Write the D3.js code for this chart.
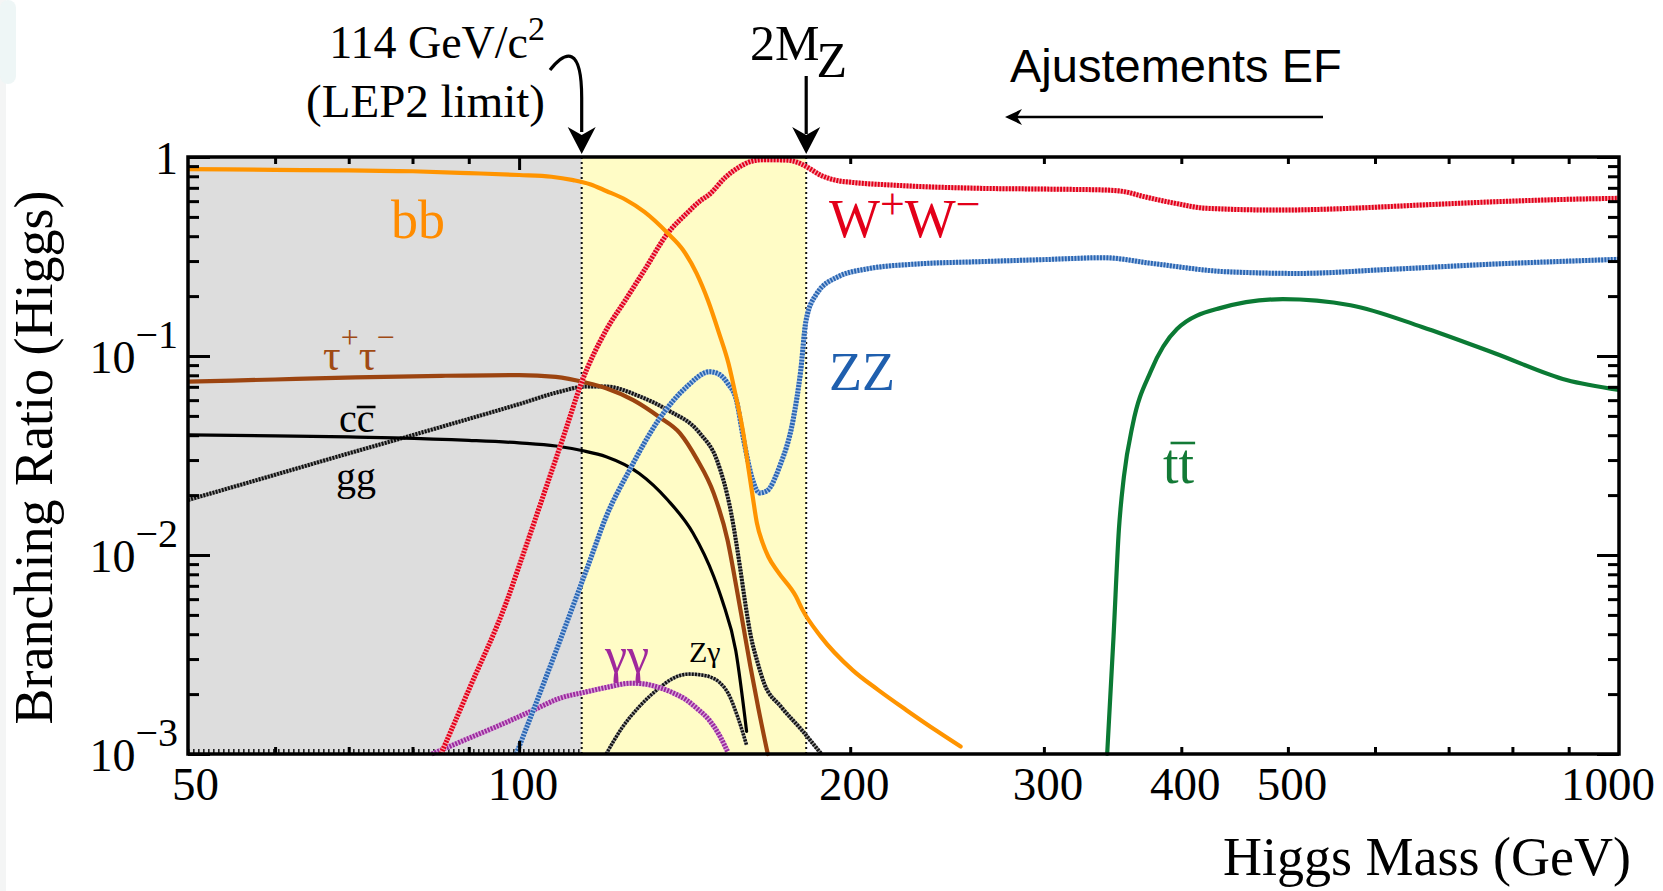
<!DOCTYPE html>
<html>
<head>
<meta charset="utf-8">
<script src="https://cdn.jsdelivr.net/npm/d3@7"></script>
<style>
  html, body { margin: 0; padding: 0; background: #ffffff; }
  svg { display: block; }
</style>
</head>
<body>
<svg id="chart" width="1663" height="891"></svg>
<script>
// Standard Model Higgs boson branching ratios as a function of its mass.

// --- decay channels: mass (GeV) and branching ratio ---
const bbMass = [50, 60, 70, 80, 90, 100, 107, 112, 116, 120, 125, 130, 136.5, 141, 145, 148.5, 152, 155, 157.5, 160, 161.5, 163, 164.5, 166.5, 168.5, 172, 178.5, 181, 188, 201, 212, 225, 240, 252];
const bbBR   = [0.87, 0.862, 0.856, 0.848, 0.83, 0.812, 0.796, 0.765, 0.73, 0.675, 0.61, 0.53, 0.414, 0.34, 0.26, 0.19, 0.13, 0.092, 0.062, 0.04, 0.028, 0.02, 0.0145, 0.0115, 0.0098, 0.0082, 0.0062, 0.0053, 0.0039, 0.00264, 0.0021, 0.00166, 0.0013, 0.00109];

const wwMass = [84.9, 90, 97.6, 100, 106.7, 110, 114, 120, 125, 130, 136.5, 142, 146, 149, 154, 158.5, 163, 167, 175, 180, 184, 188, 195, 201, 221, 262, 300, 340, 355, 370, 395, 422, 489, 569, 661, 772, 900, 1000];
const wwBR   = [0.001, 0.0021, 0.006, 0.0088, 0.025, 0.041, 0.074, 0.135, 0.192, 0.27, 0.414, 0.52, 0.6, 0.65, 0.79, 0.89, 0.955, 0.97, 0.965, 0.93, 0.87, 0.81, 0.76, 0.745, 0.72, 0.696, 0.69, 0.683, 0.67, 0.632, 0.585, 0.552, 0.541, 0.552, 0.574, 0.596, 0.613, 0.62];

const zzMass = [99.4, 104, 108.7, 112.8, 116, 120, 126, 134, 142, 149, 152, 154.7, 157.6, 160, 163, 165.4, 168, 172.5, 177.5, 180.3, 182.3, 186.4, 194.9, 208, 230, 262, 300, 340, 376, 440, 512, 615, 772, 1000];
const zzBR   = [0.001, 0.0019, 0.0036, 0.0062, 0.0094, 0.0156, 0.0267, 0.048, 0.07, 0.0834, 0.081, 0.073, 0.06, 0.038, 0.024, 0.0205, 0.021, 0.0278, 0.048, 0.084, 0.15, 0.205, 0.25, 0.275, 0.29, 0.298, 0.305, 0.312, 0.292, 0.265, 0.26, 0.272, 0.29, 0.306];

const tauMass = [50, 60, 71, 85, 100, 108, 115, 120, 127, 134, 140, 145, 150.3, 154.7, 157.6, 160, 162.3, 165, 168.3];
const tauBR   = [0.0743, 0.0762, 0.078, 0.0795, 0.0802, 0.0785, 0.0735, 0.0689, 0.06, 0.0495, 0.041, 0.0305, 0.0204, 0.0119, 0.0069, 0.0043, 0.00275, 0.0017, 0.001];

const ccMass = [50, 60, 70, 77, 90, 100, 108, 114, 120, 128.6, 136.5, 143.9, 150.3, 153, 157.4, 161];
const ccBR   = [0.0401, 0.0397, 0.0392, 0.0388, 0.0377, 0.0366, 0.0353, 0.0335, 0.0312, 0.0257, 0.0189, 0.0129, 0.0078, 0.0059, 0.0033, 0.0013];

const ggMass = [50, 60, 71.2, 79.6, 90, 100, 108.7, 115, 120, 128.6, 136.5, 146, 151.3, 155.9, 158.8, 160.5, 162.3, 165, 167, 173, 180.7, 188.3];
const ggBR   = [0.0189, 0.0253, 0.0333, 0.0397, 0.0483, 0.0573, 0.066, 0.0702, 0.0702, 0.0628, 0.0535, 0.0409, 0.030, 0.0162, 0.0087, 0.0058, 0.004, 0.0028, 0.00227, 0.00173, 0.00132, 0.001];

const zgMass = [120, 124, 128.6, 134, 138, 142.8, 146, 148.9, 152, 154.9, 158, 161];
const zgBR   = [0.001, 0.00135, 0.00173, 0.00214, 0.0024, 0.00252, 0.0025, 0.00245, 0.0023, 0.00202, 0.00154, 0.00111];

const gagaMass = [83.3, 90, 95, 103, 108.7, 115, 120, 126.5, 130, 134, 138, 141.9, 145, 148.9, 152, 154.7];
const gagaBR   = [0.001, 0.0012, 0.00136, 0.00166, 0.0019, 0.00205, 0.00216, 0.00227, 0.00225, 0.00216, 0.00203, 0.00187, 0.0017, 0.00148, 0.00125, 0.00103];

const ttMass = [342.5, 347.1, 351, 354.7, 361.4, 375.3, 396.4, 433.8, 494.8, 570, 662, 772, 896, 1000];
const ttBR   = [0.001, 0.0039, 0.0134, 0.0247, 0.0455, 0.084, 0.1367, 0.174, 0.193, 0.18, 0.14, 0.103, 0.0757, 0.0675];

// --- axis ticks and reference masses ---
const xTickLabels = [50, 100, 200, 300, 400, 500, 1000];
const yTickExponents = [0, -1, -2, -3];
const lepLimit = 114;     // GeV, LEP2 exclusion
const twoMZ = 182.4;      // GeV, ZZ threshold

// --- layout ---
const W = 1663, H = 891;
const plot = { left: 188, right: 1619, top: 157, bottom: 754 };
const SERIF = "'Liberation Serif', 'Times New Roman', Times, serif";
const SANS = "'Liberation Sans', Arial, Helvetica, sans-serif";

const svg = d3.select('#chart');

const x = d3.scaleLog().domain([50, 1000]).range([plot.left, plot.right]);
const y = d3.scaleLog().domain([1e-3, 1]).range([plot.bottom, plot.top]);

// faint edge tint along the left border of the page
svg.append('rect').attr('x', 0).attr('y', 0).attr('width', 6).attr('height', H).attr('fill', '#f4f5f5');
svg.append('rect').attr('x', 0).attr('y', 0).attr('width', 16).attr('height', 84).attr('rx', 8).attr('fill', '#eef6f6');

// clip region for the curves
svg.append('defs').append('clipPath').attr('id', 'plotClip')
  .append('rect')
  .attr('x', plot.left).attr('y', plot.top - 2)
  .attr('width', plot.right - plot.left).attr('height', plot.bottom - plot.top + 6);

// shaded mass regions
svg.append('rect')
  .attr('x', x(50)).attr('y', plot.top)
  .attr('width', x(lepLimit) - x(50)).attr('height', plot.bottom - plot.top)
  .attr('fill', '#dddddd');
svg.append('rect')
  .attr('x', x(lepLimit)).attr('y', plot.top)
  .attr('width', x(twoMZ) - x(lepLimit)).attr('height', plot.bottom - plot.top)
  .attr('fill', '#fffcc6');

// dotted bottom edge of the excluded region
svg.append('line')
  .attr('x1', x(50)).attr('x2', x(lepLimit))
  .attr('y1', plot.bottom - 3).attr('y2', plot.bottom - 3)
  .attr('stroke', '#222').attr('stroke-width', 4).attr('stroke-dasharray', '1.6,3.4');

// vertical markers at the LEP limit and at 2 M_Z
[lepLimit, twoMZ].forEach(m => {
  svg.append('line')
    .attr('x1', x(m)).attr('x2', x(m))
    .attr('y1', plot.top).attr('y2', plot.bottom)
    .attr('stroke', '#111').attr('stroke-width', 2).attr('stroke-dasharray', '2,3');
});

// curves
const series = [
  { mass: ggMass,   br: ggBR,   color: '#111111', gap: '#9a9a9a', width: 4,   dotted: true },
  { mass: zgMass,   br: zgBR,   color: '#111111', gap: '#9a9a9a', width: 3.5, dotted: true },
  { mass: gagaMass, br: gagaBR, color: '#9b2a9e', gap: '#d9a6da', width: 5,   dotted: true },
  { mass: ccMass,   br: ccBR,   color: '#000000', width: 3.2 },
  { mass: tauMass,  br: tauBR,  color: '#9c4410', width: 4.2 },
  { mass: zzMass,   br: zzBR,   color: '#2a66b3', gap: '#a9c3e6', width: 5,   dotted: true },
  { mass: wwMass,   br: wwBR,   color: '#e3001a', gap: '#f4a6ae', width: 5,   dotted: true },
  { mass: bbMass,   br: bbBR,   color: '#ff9400', width: 4.2 },
  { mass: ttMass,   br: ttBR,   color: '#0b7a34', width: 4.2 }
];

const line = d3.line()
  .x(d => x(d[0]))
  .y(d => y(d[1]))
  .curve(d3.curveMonotoneX);

const curves = svg.append('g').attr('clip-path', 'url(#plotClip)').attr('fill', 'none');
series.forEach(s => {
  const pts = s.mass.map((m, i) => [m, s.br[i]]);
  if (s.dotted) {
    curves.append('path').attr('d', line(pts))
      .attr('stroke', s.gap).attr('stroke-width', s.width)
      .attr('stroke-linejoin', 'round');
    curves.append('path').attr('d', line(pts))
      .attr('stroke', s.color).attr('stroke-width', s.width)
      .attr('stroke-dasharray', '1.9,1.3');
  } else {
    curves.append('path').attr('d', line(pts))
      .attr('stroke', s.color).attr('stroke-width', s.width)
      .attr('stroke-linejoin', 'round').attr('stroke-linecap', 'round');
  }
});

// --- axes (ticks point into the plot) ---
const yMajor = yTickExponents.map(e => Math.pow(10, e));
const yMinor = y.ticks().filter(v => !yMajor.some(t => Math.abs(t - v) < 1e-12));
const xAll = x.ticks();

function styleAxis(g) {
  g.select('.domain').remove();
  g.selectAll('line').attr('stroke', '#000').attr('stroke-width', 3);
}

svg.append('g').attr('transform', `translate(${plot.left},0)`)
  .call(d3.axisLeft(y).tickValues(yMajor).tickSize(-22).tickFormat('')).call(styleAxis);
svg.append('g').attr('transform', `translate(${plot.left},0)`)
  .call(d3.axisLeft(y).tickValues(yMinor).tickSize(-11).tickFormat('')).call(styleAxis);
svg.append('g').attr('transform', `translate(${plot.right},0)`)
  .call(d3.axisRight(y).tickValues(yMajor).tickSize(-22).tickFormat('')).call(styleAxis);
svg.append('g').attr('transform', `translate(${plot.right},0)`)
  .call(d3.axisRight(y).tickValues(yMinor).tickSize(-11).tickFormat('')).call(styleAxis);

const xInner = xAll.filter(v => v > 50 && v < 1000);
svg.append('g').attr('transform', `translate(0,${plot.top})`)
  .call(d3.axisTop(x).tickValues(xInner).tickSize(-7).tickFormat('')).call(styleAxis)
  .selectAll('.tick line').attr('y2', d => d === 100 ? 13 : 7);
const bottomAxis = svg.append('g').attr('transform', `translate(0,${plot.bottom})`)
  .call(d3.axisBottom(x).tickValues(xInner).tickSize(-7).tickFormat('')).call(styleAxis);
bottomAxis.selectAll('.tick line').attr('y2', d => d === 100 ? -13 : -7);

// x tick labels
const xLab = svg.append('g')
  .attr('font-family', SERIF).attr('font-size', 47).attr('fill', '#000');
xTickLabels.forEach(v => {
  const t = xLab.append('text')
    .attr('x', x(v)).attr('y', 800)
    .attr('text-anchor', 'middle')
    .text(d3.format('d')(v));
  const w = t.node().getComputedTextLength();
  const cx = Math.max(x(v), plot.left - 20 + w / 2);
  t.attr('x', Math.min(cx + 4, 1655 - w / 2));
});

// y tick labels: 1, 10^-1, 10^-2, 10^-3
const yLab = svg.append('g')
  .attr('font-family', SERIF).attr('fill', '#000');
yTickExponents.forEach(e => {
  const ty = y(Math.pow(10, e));
  const t = yLab.append('text')
    .attr('x', 178).attr('y', ty + 17)
    .attr('text-anchor', 'end').attr('font-size', 46);
  if (e === 0) {
    t.text('1');
  } else {
    t.append('tspan').text('10');
    t.append('tspan').attr('font-size', 40).attr('dy', -25).text('\u2212' + Math.abs(e));
  }
});

// frame
svg.append('rect')
  .attr('x', plot.left).attr('y', plot.top)
  .attr('width', plot.right - plot.left).attr('height', plot.bottom - plot.top)
  .attr('fill', 'none').attr('stroke', '#000').attr('stroke-width', 3.5);

// axis titles
svg.append('text')
  .attr('transform', `translate(52,${(plot.top + plot.bottom) / 2 + 2}) rotate(-90)`)
  .attr('text-anchor', 'middle')
  .attr('font-family', SERIF).attr('font-size', 54).attr('fill', '#000')
  .text('Branching Ratio (Higgs)');
svg.append('text')
  .attr('x', 1631).attr('y', 875)
  .attr('text-anchor', 'end')
  .attr('font-family', SERIF).attr('font-size', 54).attr('fill', '#000')
  .text('Higgs Mass (GeV)');

// --- channel labels ---
const lab = svg.append('g').attr('font-family', SERIF);

// bar over one character of a label (antiparticle notation)
function overbar(textSel, charIndex, rise, extendLeft, color) {
  const node = textSel.node();
  const s = node.getStartPositionOfChar(charIndex);
  const e = node.getEndPositionOfChar(charIndex);
  lab.append('line')
    .attr('x1', s.x - extendLeft).attr('x2', e.x + 1)
    .attr('y1', s.y - rise).attr('y2', s.y - rise)
    .attr('stroke', color).attr('stroke-width', 2.6);
}

lab.append('text').attr('x', 391).attr('y', 238).attr('font-size', 54)
  .attr('fill', '#ff8c00').text('bb');

const tau = lab.append('text').attr('x', 323).attr('y', 370).attr('font-size', 44).attr('fill', '#a04a14');
tau.append('tspan').text('\u03c4');
tau.append('tspan').attr('font-size', 32).attr('dy', -22).text('+');
tau.append('tspan').attr('font-size', 44).attr('dy', 22).text('\u03c4');
tau.append('tspan').attr('font-size', 32).attr('dy', -22).text('\u2212');

const cc = lab.append('text').attr('x', 339).attr('y', 432).attr('font-size', 40).attr('fill', '#000').text('cc');
overbar(cc, 1, 25, 0, '#000');

lab.append('text').attr('x', 336).attr('y', 490).attr('font-size', 40)
  .attr('fill', '#000').text('gg');

const ww = lab.append('text').attr('x', 829).attr('y', 237).attr('font-size', 54).attr('fill', '#e3001a');
ww.append('tspan').text('W');
ww.append('tspan').attr('font-size', 44).attr('dy', -18).text('+');
ww.append('tspan').attr('font-size', 54).attr('dy', 18).text('W');
ww.append('tspan').attr('font-size', 44).attr('dy', -18).text('\u2212');

lab.append('text').attr('x', 829).attr('y', 390).attr('font-size', 54)
  .attr('fill', '#1f5fae').text('ZZ');

const tt = lab.append('text').attr('x', 1163).attr('y', 483).attr('font-size', 56).attr('fill', '#137a36').text('tt');
overbar(tt, 1, 40, 8, '#137a36');

lab.append('text').attr('x', 605).attr('y', 672).attr('font-size', 50)
  .attr('fill', '#a0289c').text('\u03b3\u03b3');

lab.append('text').attr('x', 689).attr('y', 662).attr('font-size', 30)
  .attr('fill', '#000').text('Z\u03b3');

// --- annotations above the frame ---
const ann = svg.append('g').attr('font-family', SERIF).attr('fill', '#000');
const lepText = ann.append('text').attr('x', 545).attr('y', 58).attr('font-size', 46).attr('text-anchor', 'end');
lepText.append('tspan').text('114 GeV/c');
lepText.append('tspan').attr('font-size', 34).attr('dy', -18).text('2');
ann.append('text').attr('x', 545).attr('y', 117).attr('font-size', 47).attr('text-anchor', 'end')
  .text('(LEP2 limit)');

const mzText = ann.append('text').attr('x', 750).attr('y', 60).attr('font-size', 50);
mzText.append('tspan').text('2M');
mzText.append('tspan').attr('dy', 17).attr('dx', -3).text('Z');

function arrowHead(g, tx, ty, dir) {
  // barbed head pointing down or left
  let p;
  if (dir === 'down') {
    p = `M${tx},${ty} L${tx - 14},${ty - 27} L${tx},${ty - 19} L${tx + 14},${ty - 27} Z`;
  } else {
    p = `M${tx},${ty} L${tx + 17},${ty - 8} L${tx + 12},${ty} L${tx + 17},${ty + 8} Z`;
  }
  g.append('path').attr('d', p).attr('fill', '#000');
}

const arrows = svg.append('g');
const lx = x(lepLimit);
arrows.append('path')
  .attr('d', `M550,70 C566,50 ${lx},46 ${lx},98 L${lx},132`)
  .attr('fill', 'none').attr('stroke', '#000').attr('stroke-width', 3.2);
arrowHead(arrows, lx, plot.top - 3, 'down');

const zx = x(twoMZ);
arrows.append('line').attr('x1', zx).attr('x2', zx).attr('y1', 76).attr('y2', 134)
  .attr('stroke', '#000').attr('stroke-width', 3.2);
arrowHead(arrows, zx, plot.top - 3, 'down');

svg.append('text').attr('x', 1010).attr('y', 82)
  .attr('font-family', SANS).attr('font-size', 47).attr('fill', '#000')
  .text('Ajustements EF');
arrows.append('line').attr('x1', 1016).attr('x2', 1323).attr('y1', 117).attr('y2', 117)
  .attr('stroke', '#000').attr('stroke-width', 2.6);
arrowHead(arrows, 1005, 117, 'left');
</script>
</body>
</html>
